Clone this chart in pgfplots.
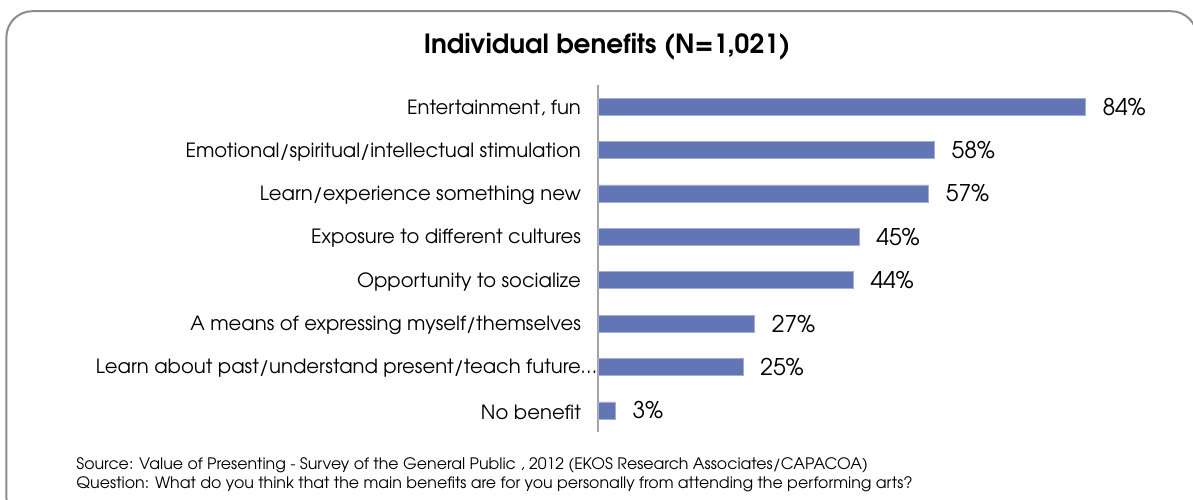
\documentclass[border=0pt]{standalone}
\usepackage{pgfplots}
\pgfplotsset{compat=1.18}
\usepackage{fontspec}
\setmainfont{texgyreadventor}[Extension=.otf, UprightFont=*-regular, BoldFont=*-bold]
\definecolor{barblue}{RGB}{98,118,182}
\definecolor{framegray}{RGB}{140,140,140}
\begin{document}
\begin{tikzpicture}
% picture is 1193x499 px, 1 px = 0.5pt
\useasboundingbox (0,0) rectangle (596.5pt,-249.5pt);
\draw[framegray, line width=1pt, rounded corners=13pt] (3.2pt,-5.6pt) rectangle (598.5pt,-262pt);
\node[font=\fontsize{13.2}{15}\selectfont\bfseries] at (303.5pt,-23.5pt) {Individual benefits (N=1,021)};
\begin{axis}[
  at={(299pt,-42.5pt)}, anchor=north west,
  scale only axis, width=290pt, height=173.5pt,
  xbar, bar width=8.5pt,
  xmin=0, xmax=100, ymin=-0.5, ymax=7.5, y dir=reverse,
  axis x line=none, axis y line=left,
  y axis line style={-, draw=framegray!80, line width=0.9pt},
  xtick=\empty, ytick={0,...,7}, major tick length=0pt,
  yticklabels={{Entertainment, fun}, Emotional/spiritual/intellectual stimulation, Learn/experience something new,
    Exposure to different cultures, Opportunity to socialize, A means of expressing myself/themselves,
    Learn about past/understand present/teach future\rlap{\ldots}, No benefit},
  yticklabel style={font=\fontsize{9.8}{12}\selectfont, xshift=-5pt, yshift=-0.8pt},
  point meta=x,
  /pgf/number format/assume math mode=true,
  nodes near coords={\pgfmathprintnumber{\pgfplotspointmeta}\%},
  every node near coord/.append style={font=\fontsize{11.5}{13}\selectfont, anchor=west, inner sep=0pt, xshift=8.5pt, black},
  clip=false,
]
\addplot[fill=barblue, draw=barblue!60!white, line width=0.3pt] coordinates {
  (84,0) (58,1) (57,2) (45,3) (44,4) (27,5) (25,6) (3,7)};
\end{axis}
\node[anchor=north west, align=left, font=\fontsize{7.9}{9.5}\selectfont, inner sep=0pt] at (38pt,-228.5pt)
  {Source: Value of Presenting - Survey of the General Public , 2012 (EKOS Research Associates/CAPACOA)\\
   Question: What do you think that the main benefits are for you personally from attending the performing arts?};
\end{tikzpicture}
\end{document}
